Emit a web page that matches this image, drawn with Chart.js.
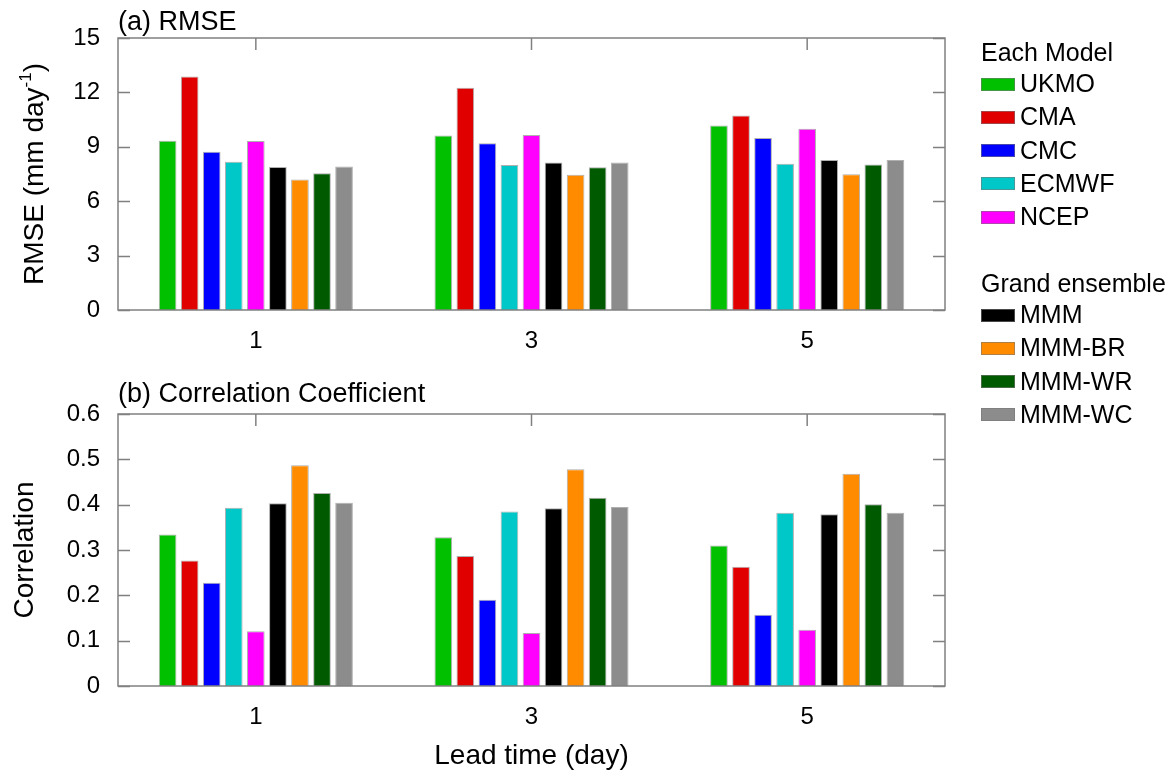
<!DOCTYPE html>
<html>
<head>
<meta charset="utf-8">
<script src="https://cdn.jsdelivr.net/npm/chart.js@4.4.0/dist/chart.umd.min.js"></script>
<style>
  body { margin: 0; background: #fff; }
  #wrap { position: relative; width: 1173px; height: 774px; }
  canvas { position: absolute; left: 0; }
  #rmseChart { top: 0; }
  #corrChart { top: 372px; }
  #legend { position: absolute; left: 0; top: 0; font-family: "Liberation Sans", Arial, sans-serif; font-size: 25px; color: #000; }
  .lg-head, .lg-row { position: absolute; height: 30px; line-height: 30px; white-space: nowrap; }
  .lg-sw { position: absolute; width: 34px; height: 13px; box-sizing: border-box; border: 1px solid rgba(120,120,120,0.6); }
</style>
</head>
<body>
<div id="wrap">
  <canvas id="rmseChart" width="1173" height="372"></canvas>
  <canvas id="corrChart" width="1173" height="402"></canvas>
  <div id="legend"></div>
</div>
<script>
var FONT = '"Liberation Sans", Arial, sans-serif';
var AXIS_GRAY = '#808080';

// lead times on the x axis
var leadTimes = ['1', '3', '5'];

// models, in bar order
var models = ['UKMO', 'CMA', 'CMC', 'ECMWF', 'NCEP', 'MMM', 'MMM-BR', 'MMM-WR', 'MMM-WC'];
var colors = ['#00c000', '#e00000', '#0000ff', '#00c8c8', '#ff00ff', '#000000', '#ff8c00', '#005a00', '#8c8c8c'];

// RMSE (mm/day) per lead time, one value per model
var rmseDay1 = [9.34, 12.87, 8.73, 8.18, 9.32, 7.89, 7.19, 7.54, 7.92];
var rmseDay3 = [9.63, 12.26, 9.19, 8.00, 9.65, 8.14, 7.46, 7.87, 8.14];
var rmseDay5 = [10.17, 10.72, 9.49, 8.07, 10.00, 8.27, 7.48, 8.02, 8.27];

// correlation coefficient per lead time
var corrDay1 = [0.334, 0.277, 0.228, 0.393, 0.121, 0.403, 0.487, 0.426, 0.404];
var corrDay3 = [0.328, 0.287, 0.190, 0.385, 0.117, 0.392, 0.478, 0.415, 0.395];
var corrDay5 = [0.310, 0.263, 0.157, 0.382, 0.124, 0.379, 0.468, 0.401, 0.382];

// y axis ticks
var rmseTicks = [0, 3, 6, 9, 12, 15];
var corrTicks = [0, 0.1, 0.2, 0.3, 0.4, 0.5, 0.6];

// turn the per-lead-time rows into one dataset per model
function buildDatasets(rows) {
  return models.map(function(name, i) {
    return {
      label: name,
      data: rows.map(function(r) { return r[i]; }),
      backgroundColor: colors[i],
      borderColor: 'rgba(110,110,110,0.55)',
      borderWidth: 1,
      categoryPercentage: 0.72,
      barPercentage: 0.8
    };
  });
}

// box around the plot with short inward ticks on every side
var frameTicks = {
  id: 'frameTicks',
  beforeDatasetsDraw: function(chart) {
    var a = chart.chartArea, ctx = chart.ctx, xs = chart.scales.x;
    ctx.save();
    ctx.strokeStyle = AXIS_GRAY;
    ctx.lineWidth = 1.5;
    leadTimes.forEach(function(l, i) {
      var x = xs.getPixelForTick(i);
      ctx.beginPath();
      ctx.moveTo(x, a.bottom);
      ctx.lineTo(x, a.bottom - 12);
      ctx.stroke();
    });
    ctx.restore();
  },
  afterDatasetsDraw: function(chart) {
    var a = chart.chartArea, ctx = chart.ctx, xs = chart.scales.x, ys = chart.scales.y;
    ctx.save();
    ctx.strokeStyle = AXIS_GRAY;
    ctx.lineWidth = 1.5;
    ctx.strokeRect(a.left, a.top, a.right - a.left, a.bottom - a.top);
    ys.ticks.forEach(function(t) {
      var y = Math.round(ys.getPixelForValue(t.value)) + 0.5;
      ctx.beginPath();
      ctx.moveTo(a.left, y);
      ctx.lineTo(a.left + 12, y);
      ctx.moveTo(a.right, y);
      ctx.lineTo(a.right - 12, y);
      ctx.stroke();
    });
    leadTimes.forEach(function(l, i) {
      var x = xs.getPixelForTick(i);
      ctx.beginPath();
      ctx.moveTo(x, a.top);
      ctx.lineTo(x, a.top + 12);
      ctx.stroke();
    });
    ctx.restore();
  }
};

// panel label, y title (with optional superscript) and x title
var panelText = {
  id: 'panelText',
  afterDraw: function(chart, args, opts) {
    var a = chart.chartArea, ctx = chart.ctx;
    ctx.save();
    ctx.fillStyle = '#000';
    ctx.textBaseline = 'alphabetic';

    ctx.font = '27px ' + FONT;
    ctx.textAlign = 'left';
    ctx.fillText(opts.label, a.left, opts.labelY);

    // rotated y title
    ctx.save();
    ctx.translate(opts.yTitleX, (a.top + a.bottom) / 2);
    ctx.rotate(-Math.PI / 2);
    var big = '28px ' + FONT, small = '17px ' + FONT;
    ctx.font = big;
    var w1 = ctx.measureText(opts.yTitle).width;
    var w3 = opts.yTail ? ctx.measureText(opts.yTail).width : 0;
    ctx.font = small;
    var w2 = opts.ySup ? ctx.measureText(opts.ySup).width : 0;
    var x = -(w1 + w2 + w3) / 2;
    ctx.font = big;
    ctx.fillText(opts.yTitle, x, 0);
    if (opts.ySup) {
      ctx.font = small;
      ctx.fillText(opts.ySup, x + w1, -12);
      ctx.font = big;
      ctx.fillText(opts.yTail, x + w1 + w2, 0);
    }
    ctx.restore();

    if (opts.xTitle) {
      ctx.font = '28px ' + FONT;
      ctx.textAlign = 'center';
      ctx.fillText(opts.xTitle, (a.left + a.right) / 2, opts.xTitleY);
    }
    ctx.restore();
  }
};

function makeOptions(yTicks, xHeight, topPad, text) {
  return {
    responsive: false,
    animation: false,
    layout: { padding: { top: topPad, left: 0, right: 228, bottom: 0 } },
    plugins: {
      legend: { display: false },
      tooltip: { enabled: false },
      panelText: text
    },
    scales: {
      x: {
        grid: { display: false, drawTicks: false },
        border: { display: false },
        ticks: { color: '#000', font: { family: FONT, size: 24 }, padding: 17 },
        afterFit: function(s) { s.height = xHeight; }
      },
      y: {
        min: yTicks[0],
        max: yTicks[yTicks.length - 1],
        afterBuildTicks: function(s) {
          s.ticks = yTicks.map(function(v) { return { value: v }; });
        },
        grid: { display: false, drawTicks: false },
        border: { display: false },
        ticks: { color: '#000', font: { family: FONT, size: 24 }, padding: 18 },
        afterFit: function(s) { s.width = 118; }
      }
    }
  };
}

new Chart(document.getElementById('rmseChart'), {
  type: 'bar',
  data: { labels: leadTimes, datasets: buildDatasets([rmseDay1, rmseDay3, rmseDay5]) },
  options: makeOptions(rmseTicks, 62, 38, {
    label: '(a) RMSE', labelY: 30,
    yTitle: 'RMSE (mm day', ySup: '-1', yTail: ')', yTitleX: 43
  }),
  plugins: [frameTicks, panelText]
});

new Chart(document.getElementById('corrChart'), {
  type: 'bar',
  data: { labels: leadTimes, datasets: buildDatasets([corrDay1, corrDay3, corrDay5]) },
  options: makeOptions(corrTicks, 88, 42, {
    label: '(b) Correlation Coefficient', labelY: 30,
    yTitle: 'Correlation', yTitleX: 33,
    xTitle: 'Lead time (day)', xTitleY: 392
  }),
  plugins: [frameTicks, panelText]
});

// legend, split into the single models and the grand ensemble
var legendGroups = [
  { title: 'Each Model', from: 0, to: 5, top: 53 },
  { title: 'Grand ensemble', from: 5, to: 9, top: 284 }
];
var legend = document.getElementById('legend');
legendGroups.forEach(function(g) {
  var head = document.createElement('div');
  head.className = 'lg-head';
  head.style.left = '981px';
  head.style.top = (g.top - 16) + 'px';
  head.textContent = g.title;
  legend.appendChild(head);
  for (var i = g.from; i < g.to; i++) {
    var cy = g.top + 31 + (i - g.from) * 33.3;
    var sw = document.createElement('div');
    sw.className = 'lg-sw';
    sw.style.left = '981px';
    sw.style.top = (cy - 6.5) + 'px';
    sw.style.background = colors[i];
    legend.appendChild(sw);
    var row = document.createElement('div');
    row.className = 'lg-row';
    row.style.left = '1020px';
    row.style.top = (cy - 16) + 'px';
    row.textContent = models[i];
    legend.appendChild(row);
  }
});
</script>
</body>
</html>
